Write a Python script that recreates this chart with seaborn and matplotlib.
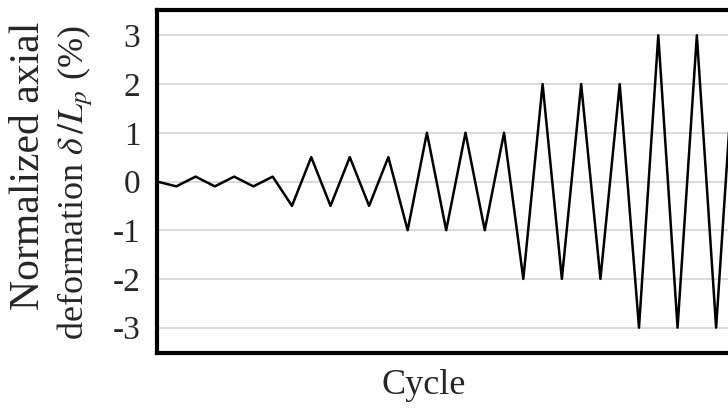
import matplotlib
matplotlib.use("Agg")
import matplotlib.pyplot as plt
import seaborn as sns
import numpy as np
import pandas as pd

# Data: loading protocol (half-cycle peaks)
step = list(range(31))
deformation = [0, -0.1, 0.1, -0.1, 0.1, -0.1, 0.1,
               -0.5, 0.5, -0.5, 0.5, -0.5, 0.5,
               -1, 1, -1, 1, -1, 1,
               -2, 2, -2, 2, -2, 2,
               -3, 3, -3, 3, -3, 3]
yticks = [-3, -2, -1, 0, 1, 2, 3]
ytick_labels = ["-3", "-2", "-1", "0", "1", "2", "3"]

sns.set_style("white")
plt.rcParams['font.family'] = ['Liberation Serif', 'DejaVu Serif']
plt.rcParams['mathtext.fontset'] = 'stix'

W, H = 728, 408
fig = plt.figure(figsize=(W / 100, H / 100), dpi=100)
fig.patch.set_facecolor("white")

x0_px, unit_px = 157, 19.28
xmax = 31
left = x0_px / W
width = xmax * unit_px / W
top_px, bot_px = 10, 353
ax = fig.add_axes([left, 1 - bot_px / H, width, (bot_px - top_px) / H])

df = pd.DataFrame({"step": step, "deformation": deformation})
sns.lineplot(data=df, x="step", y="deformation", ax=ax, color="black",
             linewidth=1.8, clip_on=True)

ax.set_xlim(0, xmax)
ax.set_ylim(-3.52, 3.52)
ax.set_yticks(yticks)
ax.set_yticklabels(ytick_labels, fontsize=24)
ax.set_xticks([])
ax.tick_params(axis="y", length=0, pad=12)
ax.yaxis.grid(True, color="#d4d4d4", linewidth=1.2)
ax.set_axisbelow(True)
for s in ["left", "top", "bottom"]:
    ax.spines[s].set_linewidth(3.0)
    ax.spines[s].set_color("black")
ax.spines["right"].set_visible(False)
ax.set_xlabel("")
ax.set_ylabel("")

fig.text(29 / W, 1 - 166 / H, "Normalized axial", rotation=90, fontsize=30,
         ha="center", va="center")
fig.text(75 / W, 1 - 183 / H, r"deformation $\delta\,/L_p$ (%)", rotation=90,
         fontsize=26, ha="center", va="center")
fig.text(424 / W, 1 - 386 / H, "Cycle", fontsize=26, ha="center", va="center")

fig.savefig("out.png", dpi=100)
